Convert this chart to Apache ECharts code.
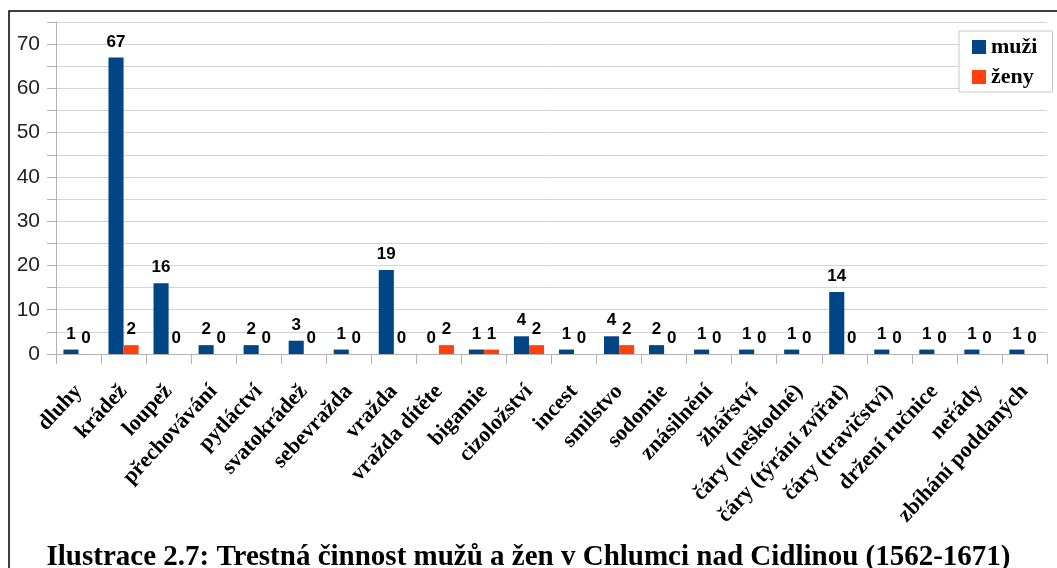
<!DOCTYPE html>
<html>
<head>
<meta charset="utf-8">
<script src="https://cdn.jsdelivr.net/npm/echarts@6/dist/echarts.min.js"></script>
<style>
  html, body { margin: 0; padding: 0; background: #fff; }
  #chart { width: 1057px; height: 568px; }
</style>
</head>
<body>
<div id="chart"></div>
<script>
const categories = ['dluhy', 'krádež', 'loupež', 'přechovávání', 'pytláctví', 'svatokrádež',
    'sebevražda', 'vražda', 'vražda dítěte', 'bigamie', 'cizoložství', 'incest', 'smilstvo',
    'sodomie', 'znásilnění', 'žhářství', 'čáry (neškodné)', 'čáry (týrání zvířat)',
    'čáry (travičství)', 'držení ručnice', 'neřády', 'zbíhání poddaných'];
const muzi = [1, 67, 16, 2, 2, 3, 1, 19, 0, 1, 4, 1, 4, 2, 1, 1, 1, 14, 1, 1, 1, 1];
const zeny = [0, 2, 0, 0, 0, 0, 0, 0, 2, 1, 2, 0, 2, 0, 0, 0, 0, 0, 0, 0, 0, 0];
const yTicks = [0, 10, 20, 30, 40, 50, 60, 70];

const chart = echarts.init(document.getElementById('chart'));

const valueLabel = {
    show: true,
    position: 'top',
    distance: 7,
    color: '#000',
    fontFamily: 'Liberation Sans',
    fontWeight: 'bold',
    fontSize: 17
};

const option = {
    animation: false,
    title: {
        text: 'Ilustrace 2.7: Trestná činnost mužů a žen v Chlumci nad Cidlinou (1562-1671)',
        left: 'center',
        top: 538,
        textStyle: {
            fontFamily: 'Liberation Serif',
            fontWeight: 'bold',
            fontSize: 29,
            color: '#000'
        }
    },
    graphic: [{
        type: 'rect',
        shape: { x: 9, y: 11, width: 1100, height: 600 },
        style: { fill: 'none', stroke: '#000', lineWidth: 1.5 },
        z: -10
    }],
    legend: {
        orient: 'vertical',
        left: 959,
        top: 31,
        padding: [5, 15, 4, 13],
        itemGap: 8,
        itemWidth: 14,
        itemHeight: 14,
        icon: 'rect',
        backgroundColor: '#fff',
        borderColor: '#c8c8c8',
        borderWidth: 1,
        textStyle: {
            fontFamily: 'Liberation Serif',
            fontWeight: 'bold',
            fontSize: 22,
            color: '#000'
        },
        data: ['muži', 'ženy']
    },
    grid: {
        left: 56,
        right: 10,
        top: 22,
        bottom: 214,
        containLabel: false
    },
    xAxis: {
        type: 'category',
        data: categories,
        axisLine: { lineStyle: { color: '#b3b3b3' } },
        axisTick: { show: true, length: 10, lineStyle: { color: '#b3b3b3' } },
        axisLabel: {
            interval: 0,
            rotate: 47,
            margin: 34,
            color: '#000',
            fontFamily: 'Liberation Serif',
            fontWeight: 'bold',
            fontSize: 22
        }
    },
    yAxis: {
        type: 'value',
        min: 0,
        max: 75,
        interval: 5,
        axisLine: { show: true, lineStyle: { color: '#b3b3b3' } },
        axisTick: { show: true, length: 9, lineStyle: { color: '#b3b3b3' } },
        splitLine: { lineStyle: { color: '#d4d4d4' } },
        axisLabel: {
            margin: 16,
            color: '#222',
            fontFamily: 'Liberation Sans',
            fontSize: 21,
            formatter: function (v) {
                return yTicks.indexOf(v) >= 0 ? String(v) : '';
            }
        }
    },
    series: [
        {
            name: 'muži',
            type: 'bar',
            data: muzi,
            barGap: '0%',
            barCategoryGap: '33%',
            itemStyle: { color: '#004586' },
            label: valueLabel
        },
        {
            name: 'ženy',
            type: 'bar',
            data: zeny,
            barGap: '0%',
            barCategoryGap: '33%',
            itemStyle: { color: '#ff420e' },
            label: valueLabel
        }
    ]
};

chart.setOption(option);

window.addEventListener('resize', function () {
    chart.resize();
});
</script>
</body>
</html>
